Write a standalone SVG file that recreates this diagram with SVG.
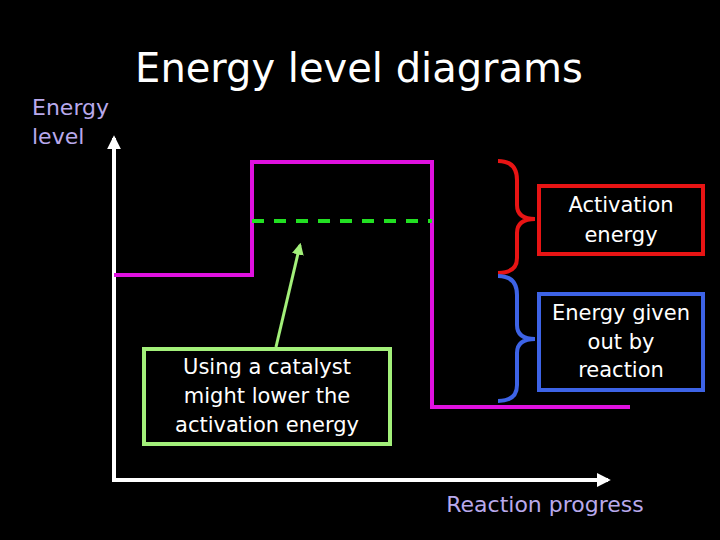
<svg xmlns="http://www.w3.org/2000/svg" width="720" height="540" viewBox="0 0 720 540">
<defs>
<style>
text{font-family:"Comic Sans MS","DejaVu Sans","Noto Sans",sans-serif;}
.w{fill:#ffffff;font-size:21px;text-anchor:middle;}
.lav{fill:#b9a9ec;font-size:22px;}
.axis{stroke:#ffffff;stroke-width:4;fill:none;}
</style>
<marker id="ah" viewBox="0 0 10 10" refX="8" refY="5" markerWidth="3.5" markerHeight="3.5" orient="auto" markerUnits="strokeWidth">
<path d="M0,0 L10,5 L0,10 z" fill="#ffffff"/>
</marker>
<marker id="gh" viewBox="0 0 10 10" refX="8" refY="5" markerWidth="4" markerHeight="4" orient="auto" markerUnits="strokeWidth">
<path d="M0,0 L10,5 L0,10 z" fill="#a3f07a"/>
</marker>
</defs>
<rect width="720" height="540" fill="#000000"/>
<text id="title" x="359" y="82" fill="#ffffff" font-size="40" text-anchor="middle">Energy level diagrams</text>
<g id="axes">
<text class="lav" x="32" y="115">Energy</text>
<text class="lav" x="32" y="144">level</text>
<line class="axis" x1="114" y1="482" x2="114" y2="138" marker-end="url(#ah)"/>
<line class="axis" x1="112" y1="480" x2="608" y2="480" marker-end="url(#ah)"/>
<text class="lav" x="545" y="512" text-anchor="middle">Reaction progress</text>
</g>
<g id="curve">
<polyline points="114,275 252,275 252,162 432,162 432,407 630,407" fill="none" stroke="#e011e0" stroke-width="4"/>
<line x1="252" y1="221" x2="432" y2="221" stroke="#22e022" stroke-width="4" stroke-dasharray="12,10"/>
</g>
<g id="connectors">
<line x1="276" y1="347" x2="300" y2="245" stroke="#a3f07a" stroke-width="3" marker-end="url(#gh)"/>
<path d="M498,161 Q517,161 517,180 L517,205 Q517,219 535,219 Q517,219 517,233 L517,258 Q517,273 498,273" fill="none" stroke="#e81414" stroke-width="4"/>
<path d="M498,276 Q517,276 517,295 L517,325 Q517,339 535,339 Q517,339 517,353 L517,385 Q517,401 498,401" fill="none" stroke="#3d63e6" stroke-width="4"/>
</g>
<g id="activation">
<rect x="539" y="186" width="164" height="68" fill="#000000" stroke="#e81414" stroke-width="4"/>
<text class="w" x="621" y="212">Activation</text>
<text class="w" x="621" y="242">energy</text>
</g>
<g id="given">
<rect x="539" y="294" width="164" height="96" fill="#000000" stroke="#3d63e6" stroke-width="4"/>
<text class="w" x="621" y="320">Energy given</text>
<text class="w" x="621" y="349">out by</text>
<text class="w" x="621" y="377">reaction</text>
</g>
<g id="catalyst">
<rect x="144" y="349" width="246" height="95" fill="#000000" stroke="#a3f07a" stroke-width="4"/>
<text class="w" x="267" y="374">Using a catalyst</text>
<text class="w" x="267" y="403">might lower the</text>
<text class="w" x="267" y="432">activation energy</text>
</g>
</svg>
